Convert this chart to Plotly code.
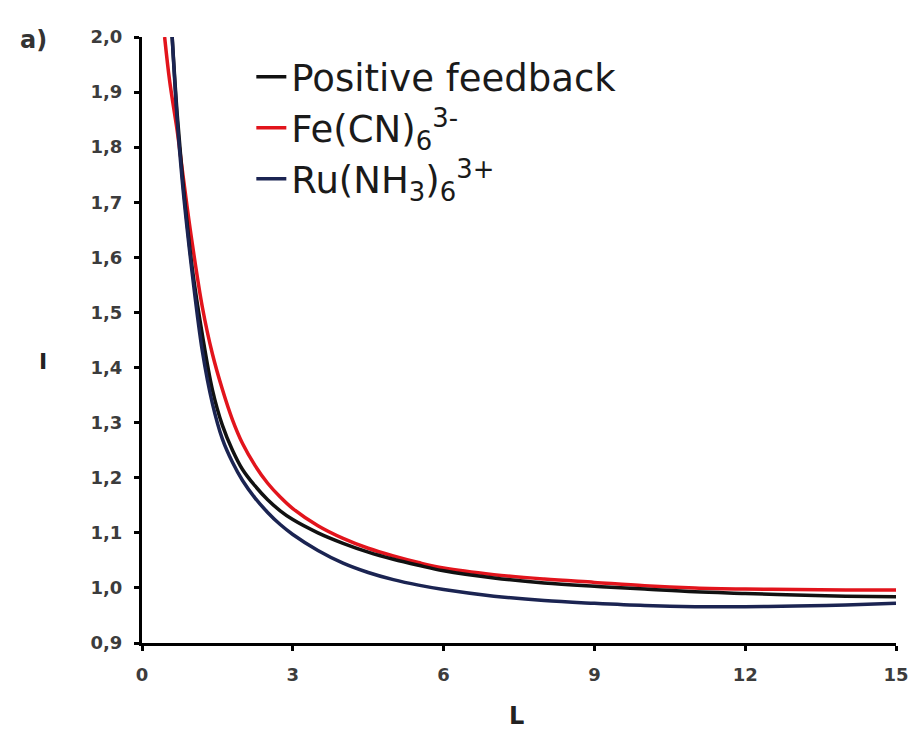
import plotly.graph_objects as go

# Normalised tip current I versus normalised distance L
L_pos = [0.6, 0.7, 0.8, 0.9, 1.0, 1.2, 1.4, 1.6, 1.8, 2.0, 2.25, 2.5, 2.75, 3.0, 3.5,
         4.0, 4.5, 5.0, 5.5, 6.0, 7.0, 8.0, 9.0, 10.0, 11.0, 12.0, 13.0, 14.0, 15.0]
I_pos = [2.00, 1.86, 1.75, 1.66, 1.58, 1.46, 1.36, 1.295, 1.25, 1.215, 1.185, 1.16,
         1.14, 1.124, 1.100, 1.081, 1.065, 1.052, 1.041, 1.031, 1.018, 1.009, 1.003,
         0.998, 0.993, 0.990, 0.987, 0.985, 0.984]

L_fe = [0.45, 0.55, 0.7, 0.8, 0.9, 1.0, 1.2, 1.4, 1.6, 1.8, 2.0, 2.25, 2.5, 2.75, 3.0,
        3.5, 4.0, 4.5, 5.0, 5.5, 6.0, 7.0, 8.0, 9.0, 10.0, 11.0, 12.0, 13.0, 14.0, 15.0]
I_fe = [2.00, 1.92, 1.83, 1.76, 1.69, 1.625, 1.51, 1.425, 1.36, 1.305, 1.262, 1.222,
        1.19, 1.165, 1.144, 1.113, 1.090, 1.072, 1.058, 1.046, 1.036, 1.024, 1.016,
        1.010, 1.004, 1.000, 0.998, 0.997, 0.996, 0.996]

L_ru = [0.6, 0.7, 0.8, 0.9, 1.0, 1.2, 1.4, 1.6, 1.8, 2.0, 2.25, 2.5, 2.75, 3.0, 3.5,
        4.0, 4.5, 5.0, 5.5, 6.0, 7.0, 8.0, 9.0, 10.0, 11.0, 12.0, 13.0, 14.0, 15.0]
I_ru = [2.00, 1.85, 1.74, 1.65, 1.57, 1.43, 1.335, 1.27, 1.228, 1.195, 1.163, 1.137,
        1.115, 1.097, 1.068, 1.045, 1.028, 1.015, 1.005, 0.997, 0.985, 0.977, 0.972,
        0.968, 0.966, 0.966, 0.967, 0.969, 0.972]

x_ticks = [0, 3, 6, 9, 12, 15]
y_ticks = [0.9, 1.0, 1.1, 1.2, 1.3, 1.4, 1.5, 1.6, 1.7, 1.8, 1.9, 2.0]

names = ["Positive feedback",
         "Fe(CN)<sub>6</sub><sup>3-</sup>",
         "Ru(NH<sub>3</sub>)<sub>6</sub><sup>3+</sup>"]
colors = ["#111111", "#e2141c", "#1b2452"]

fig = go.Figure()
fig.add_trace(go.Scatter(x=L_fe, y=I_fe, mode="lines", name=names[1],
                         legendrank=2, legendgroup="fe",
                         line=dict(color=colors[1], width=3.5, shape="spline")))
fig.add_trace(go.Scatter(x=L_pos, y=I_pos, mode="lines", name=names[0],
                         legendrank=1, legendgroup="pos",
                         line=dict(color=colors[0], width=3.5, shape="spline")))
fig.add_trace(go.Scatter(x=L_ru, y=I_ru, mode="lines", name=names[2],
                         legendrank=3, legendgroup="ru",
                         line=dict(color=colors[2], width=3.5, shape="spline")))

tick_font = dict(family="DejaVu Sans", size=18, color="#3c3c3c", weight="bold")

fig.update_layout(
    width=921, height=732,
    margin=dict(l=142, r=19, t=37, b=89),
    paper_bgcolor="white", plot_bgcolor="white",
    separators=",.",
    showlegend=True,
    legend=dict(x=0.145, y=0.985, xanchor="left", yanchor="top",
                font=dict(family="DejaVu Sans", size=37, color="#1a1a1a"),
                bgcolor="rgba(0,0,0,0)", tracegroupgap=0),
    xaxis=dict(range=[0, 15], tickvals=x_ticks, tickformat="d",
               showgrid=False, zeroline=False,
               showline=True, linecolor="black", linewidth=3,
               ticks="outside", ticklen=5, tickwidth=3, tickcolor="black",
               ticklabelstandoff=8, tickfont=tick_font),
    yaxis=dict(range=[0.9, 2.0], tickvals=y_ticks, tickformat=".1f",
               showgrid=False, zeroline=False,
               showline=True, linecolor="black", linewidth=3,
               ticks="outside", ticklen=5, tickwidth=3, tickcolor="black",
               ticklabelstandoff=8, tickfont=tick_font),
    annotations=[
        dict(text="<b>L</b>", xref="paper", yref="paper", x=0.497, y=-0.12,
             yanchor="middle", showarrow=False,
             font=dict(family="DejaVu Sans", size=24, color="#222222")),
        dict(text="<b>I</b>", xref="paper", yref="paper", x=-0.139, y=0.465,
             yanchor="middle", showarrow=False,
             font=dict(family="DejaVu Sans", size=22, color="#222222")),
        dict(text="<b>a)</b>", xref="paper", yref="paper", x=-0.165, y=0.995,
             xanchor="left", yanchor="middle", showarrow=False,
             font=dict(family="DejaVu Sans", size=24, color="#333333")),
    ],
)

fig.write_html("out.html")
